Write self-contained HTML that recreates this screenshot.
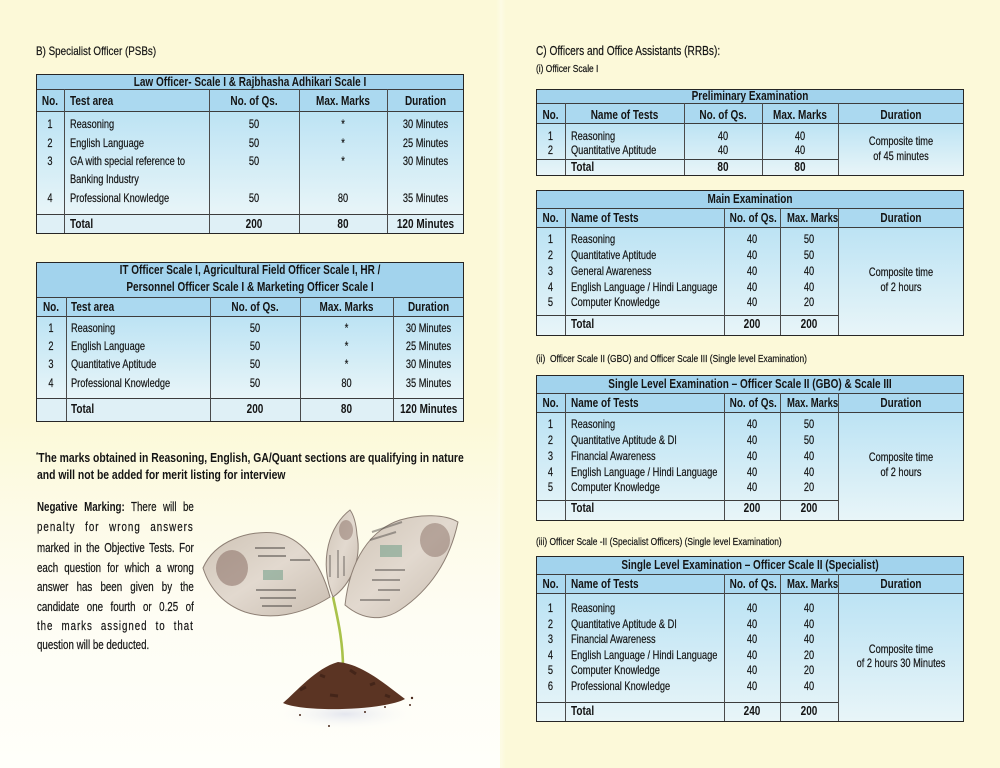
<!DOCTYPE html>
<html><head><meta charset="utf-8">
<style>
*{margin:0;padding:0}
body{width:1000px;height:768px;position:relative;overflow:hidden;background:#fcf9d9;font-family:"Liberation Sans",sans-serif;color:#141414}
.lp{position:absolute;left:0;top:0;width:500px;height:768px;background:linear-gradient(#fcf9d8 0px,#fcf9d8 420px,#fdfbe8 520px,#fefdf4 620px,#fffffa 768px)}
.fold{position:absolute;left:496px;top:0;width:10px;height:768px;background:linear-gradient(90deg,rgba(255,255,255,0),rgba(255,255,250,.35),rgba(255,255,255,0))}
.bg{position:absolute}
.ti{background:#a2d3ed}
.hd{background:#abd9f0}
.bd{background:linear-gradient(#bce3f4,#e8f5f8)}
.tot{background:#dff0f6}
.hl{position:absolute;height:1px;background:#3c3c3c}
.vl{position:absolute;width:1px;background:#4a4a4a}
.fr{position:absolute;border:1.5px solid #262626;box-sizing:border-box}
.t{position:absolute;height:16px;line-height:16px;font-size:12px;white-space:nowrap;transform:scaleX(.77);transform-origin:0 50%;-webkit-text-stroke:0.2px #141414}
.b{font-weight:bold;font-size:12.5px;transform:scaleX(.8);-webkit-text-stroke:0}
.c{text-align:center;transform-origin:50% 50%}
.m{transform:scaleX(.76)}
.s{font-size:12px;transform:scaleX(.82)}
.xs{font-size:10.5px;transform:scaleX(.8)}
.p{position:absolute;left:37px;width:201px;height:18px;line-height:18px;font-size:12.5px;text-align:justify;text-align-last:justify;white-space:nowrap;transform:scaleX(.78);transform-origin:0 50%;-webkit-text-stroke:0.2px #141414}
.p b{-webkit-text-stroke:0}
</style></head><body>
<div class="lp"></div>
<div class="fold"></div>

<!-- section labels -->
<div class="t s" style="left:36px;top:43px">B) Specialist Officer (PSBs)</div>
<div class="t" style="left:536px;top:43px;font-size:12.5px;transform:scaleX(.81)">C) Officers and Office Assistants (RRBs):</div>
<div class="t xs" style="left:536px;top:61px">(i) Officer Scale I</div>
<div class="t xs" style="left:536px;top:351px">(ii)&nbsp; Officer Scale II (GBO) and Officer Scale III (Single level Examination)</div>
<div class="t xs" style="left:536px;top:534px">(iii) Officer Scale -II (Specialist Officers) (Single level Examination)</div>

<!-- TABLE 1 -->
<div class="bg ti" style="left:36px;top:74px;width:428px;height:16px"></div>
<div class="bg hd" style="left:36px;top:90px;width:428px;height:21px"></div>
<div class="bg bd" style="left:36px;top:111px;width:428px;height:103px"></div>
<div class="bg tot" style="left:36px;top:214px;width:428px;height:19px"></div>
<div class="hl" style="left:36px;top:89px;width:428px"></div>
<div class="hl" style="left:36px;top:111px;width:428px"></div>
<div class="hl" style="left:36px;top:214px;width:428px"></div>
<div class="vl" style="left:64px;top:89px;height:144px"></div>
<div class="vl" style="left:209px;top:89px;height:144px"></div>
<div class="vl" style="left:299px;top:89px;height:144px"></div>
<div class="vl" style="left:387px;top:89px;height:144px"></div>
<div class="fr" style="left:36px;top:74px;width:428px;height:160px"></div>
<div class="t b c" style="left:36px;width:428px;top:74px">Law Officer- Scale I &amp; Rajbhasha Adhikari Scale I</div>
<div class="t b c" style="left:36px;width:28px;top:93px">No.</div>
<div class="t b" style="left:70px;top:93px">Test area</div>
<div class="t b c" style="left:209px;width:90px;top:93px">No. of Qs.</div>
<div class="t b c" style="left:299px;width:88px;top:93px">Max. Marks</div>
<div class="t b c" style="left:387px;width:77px;top:93px">Duration</div>

<div class="t c" style="left:36px;width:28px;top:116px">1</div>
<div class="t" style="left:70px;top:116px">Reasoning</div>
<div class="t c" style="left:209px;width:90px;top:116px">50</div>
<div class="t c" style="left:299px;width:88px;top:116px">*</div>
<div class="t c" style="left:387px;width:77px;top:116px">30 Minutes</div>

<div class="t c" style="left:36px;width:28px;top:135px">2</div>
<div class="t" style="left:70px;top:135px">English Language</div>
<div class="t c" style="left:209px;width:90px;top:135px">50</div>
<div class="t c" style="left:299px;width:88px;top:135px">*</div>
<div class="t c" style="left:387px;width:77px;top:135px">25 Minutes</div>

<div class="t c" style="left:36px;width:28px;top:153px">3</div>
<div class="t" style="left:70px;top:153px">GA with special reference to</div>
<div class="t c" style="left:209px;width:90px;top:153px">50</div>
<div class="t c" style="left:299px;width:88px;top:153px">*</div>
<div class="t c" style="left:387px;width:77px;top:153px">30 Minutes</div>
<div class="t" style="left:70px;top:171px">Banking Industry</div>

<div class="t c" style="left:36px;width:28px;top:190px">4</div>
<div class="t" style="left:70px;top:190px">Professional Knowledge</div>
<div class="t c" style="left:209px;width:90px;top:190px">50</div>
<div class="t c" style="left:299px;width:88px;top:190px">80</div>
<div class="t c" style="left:387px;width:77px;top:190px">35 Minutes</div>

<div class="t b" style="left:70px;top:216px">Total</div>
<div class="t b c" style="left:209px;width:90px;top:216px">200</div>
<div class="t b c" style="left:299px;width:88px;top:216px">80</div>
<div class="t b c" style="left:387px;width:77px;top:216px">120 Minutes</div>

<!-- TABLE 2 -->
<div class="bg ti" style="left:36px;top:262px;width:428px;height:35px"></div>
<div class="bg hd" style="left:36px;top:297px;width:428px;height:19px"></div>
<div class="bg bd" style="left:36px;top:316px;width:428px;height:82px"></div>
<div class="bg tot" style="left:36px;top:398px;width:428px;height:23px"></div>
<div class="hl" style="left:36px;top:297px;width:428px"></div>
<div class="hl" style="left:36px;top:316px;width:428px"></div>
<div class="hl" style="left:36px;top:398px;width:428px"></div>
<div class="vl" style="left:66px;top:297px;height:124px"></div>
<div class="vl" style="left:210px;top:297px;height:124px"></div>
<div class="vl" style="left:300px;top:297px;height:124px"></div>
<div class="vl" style="left:393px;top:297px;height:124px"></div>
<div class="fr" style="left:36px;top:262px;width:428px;height:160px"></div>
<div class="t b c" style="left:36px;width:428px;top:262px">IT Officer Scale I, Agricultural Field Officer Scale I, HR /</div>
<div class="t b c" style="left:36px;width:428px;top:279px">Personnel Officer Scale I &amp; Marketing Officer Scale I</div>
<div class="t b c" style="left:36px;width:30px;top:299px">No.</div>
<div class="t b" style="left:71px;top:299px">Test area</div>
<div class="t b c" style="left:210px;width:90px;top:299px">No. of Qs.</div>
<div class="t b c" style="left:300px;width:93px;top:299px">Max. Marks</div>
<div class="t b c" style="left:393px;width:71px;top:299px">Duration</div>

<div class="t c" style="left:36px;width:30px;top:320px">1</div>
<div class="t" style="left:71px;top:320px">Reasoning</div>
<div class="t c" style="left:210px;width:90px;top:320px">50</div>
<div class="t c" style="left:300px;width:93px;top:320px">*</div>
<div class="t c" style="left:393px;width:71px;top:320px">30 Minutes</div>

<div class="t c" style="left:36px;width:30px;top:338px">2</div>
<div class="t" style="left:71px;top:338px">English Language</div>
<div class="t c" style="left:210px;width:90px;top:338px">50</div>
<div class="t c" style="left:300px;width:93px;top:338px">*</div>
<div class="t c" style="left:393px;width:71px;top:338px">25 Minutes</div>

<div class="t c" style="left:36px;width:30px;top:356px">3</div>
<div class="t" style="left:71px;top:356px">Quantitative Aptitude</div>
<div class="t c" style="left:210px;width:90px;top:356px">50</div>
<div class="t c" style="left:300px;width:93px;top:356px">*</div>
<div class="t c" style="left:393px;width:71px;top:356px">30 Minutes</div>

<div class="t c" style="left:36px;width:30px;top:375px">4</div>
<div class="t" style="left:71px;top:375px">Professional Knowledge</div>
<div class="t c" style="left:210px;width:90px;top:375px">50</div>
<div class="t c" style="left:300px;width:93px;top:375px">80</div>
<div class="t c" style="left:393px;width:71px;top:375px">35 Minutes</div>

<div class="t b" style="left:71px;top:401px">Total</div>
<div class="t b c" style="left:210px;width:90px;top:401px">200</div>
<div class="t b c" style="left:300px;width:93px;top:401px">80</div>
<div class="t b c" style="left:393px;width:71px;top:401px">120 Minutes</div>

<!-- footnote -->
<div class="t b" style="left:36px;top:448px;font-size:12.5px;transform:scaleX(.83)"><sup style="font-size:7px">*</sup>The marks obtained in Reasoning, English, GA/Quant sections are qualifying in nature</div>
<div class="t b" style="left:37px;top:467px;font-size:12.5px;transform:scaleX(.83)">and will not be added for merit listing for interview</div>

<div class="p" style="top:498px"><b>Negative Marking:</b> There will be</div>
<div class="p" style="top:518px;letter-spacing:1.3px">penalty for wrong answers</div>
<div class="p" style="top:539px">marked in the Objective Tests. For</div>
<div class="p" style="top:559px">each question for which a wrong</div>
<div class="p" style="top:578px">answer has been given by the</div>
<div class="p" style="top:598px">candidate one fourth or 0.25 of</div>
<div class="p" style="top:617px;letter-spacing:1.2px">the marks assigned to that</div>
<div class="p" style="top:636px;text-align-last:left">question will be deducted.</div>

<!-- plant illustration -->
<svg style="position:absolute;left:0;top:0" width="1000" height="768" viewBox="0 0 1000 768">
<defs>
<linearGradient id="lf" x1="0" y1="0" x2="1" y2="1">
<stop offset="0" stop-color="#cfc4b6"/><stop offset=".5" stop-color="#e2d9cf"/><stop offset="1" stop-color="#c9bdb0"/>
</linearGradient>
<radialGradient id="sh" cx=".5" cy=".5" r=".5"><stop offset="0" stop-color="#e4e6ee"/><stop offset="1" stop-color="#fbfbf8" stop-opacity="0"/></radialGradient>
</defs>
<ellipse cx="345" cy="714" rx="70" ry="16" fill="url(#sh)"/>
<path d="M333,597 C338,620 343,642 343,668" stroke="#a9c24a" stroke-width="2.6" fill="none"/>
<!-- left leaf -->
<path d="M203,568 C215,540 250,530 275,533 C300,537 320,560 330,597 C300,616 270,620 245,612 C225,605 210,590 203,568Z" fill="url(#lf)" stroke="#8d7f74" stroke-width="1"/>
<ellipse cx="232" cy="568" rx="16" ry="18" fill="#8a6f66" opacity=".55"/>
<rect x="263" y="570" width="20" height="10" fill="#6f9c86" opacity=".55"/>
<path d="M255,548 h30 M258,556 h28 M256,590 h40 M260,598 h36 M262,606 h30 M290,560 h20" stroke="#55504c" stroke-width="2" opacity=".55"/>
<!-- middle leaf -->
<path d="M350,510 C330,525 318,560 333,597 C350,585 362,560 357,535 C356,522 353,514 350,510Z" fill="url(#lf)" stroke="#8d7f74" stroke-width="1"/>
<ellipse cx="346" cy="530" rx="7" ry="10" fill="#8a6f66" opacity=".5"/>
<path d="M330,555 v22 M338,550 v28 M344,556 v20" stroke="#55504c" stroke-width="1.6" opacity=".5"/>
<!-- right leaf -->
<path d="M345,605 C350,560 370,530 400,520 C420,514 445,514 458,522 C450,560 430,590 400,610 C385,620 365,622 345,605Z" fill="url(#lf)" stroke="#8d7f74" stroke-width="1"/>
<ellipse cx="435" cy="540" rx="15" ry="17" fill="#8a6f66" opacity=".5"/>
<rect x="380" y="545" width="22" height="12" fill="#6f9c86" opacity=".55"/>
<path d="M372,532 l30,-10 M370,540 l26,-8 M375,570 h30 M372,580 h28 M378,590 h22 M360,600 h30" stroke="#55504c" stroke-width="2" opacity=".5"/>
<!-- soil -->
<path d="M283,703 C296,692 316,668 338,662 C362,664 385,684 405,699 C385,710 305,713 283,703Z" fill="#5b3423"/>
<path d="M300,690 l6,-3 M320,675 l5,2 M350,670 l6,4 M370,685 l5,-2 M330,695 l8,1 M385,695 l5,2" stroke="#3b2016" stroke-width="3" opacity=".7"/>
<circle cx="412" cy="698" r="1.2" fill="#4a2a1c"/><circle cx="410" cy="705" r="1" fill="#4a2a1c"/>
<circle cx="300" cy="715" r="1" fill="#4a2a1c"/><circle cx="329" cy="726" r="1" fill="#4a2a1c"/>
<circle cx="365" cy="712" r="1" fill="#4a2a1c"/><circle cx="385" cy="707" r="1" fill="#4a2a1c"/>
</svg>

<!-- RIGHT TABLES -->
<!-- Preliminary -->
<div class="bg ti" style="left:536px;top:90px;width:428px;height:13px"></div>
<div class="bg hd" style="left:536px;top:103px;width:428px;height:20px"></div>
<div class="bg bd" style="left:536px;top:123px;width:428px;height:52px"></div>
<div class="hl" style="left:536px;top:103px;width:428px"></div>
<div class="hl" style="left:536px;top:123px;width:428px"></div>
<div class="hl" style="left:536px;top:159px;width:302px"></div>
<div class="vl" style="left:565px;top:103px;height:72px"></div>
<div class="vl" style="left:684px;top:103px;height:72px"></div>
<div class="vl" style="left:762px;top:103px;height:72px"></div>
<div class="vl" style="left:838px;top:103px;height:72px"></div>
<div class="fr" style="left:536px;top:89px;width:428px;height:87px"></div>
<div class="t b c" style="left:536px;width:428px;top:88px">Preliminary Examination</div>
<div class="t b c" style="left:536px;width:29px;top:107px">No.</div>
<div class="t b c" style="left:565px;width:119px;top:107px">Name of Tests</div>
<div class="t b c" style="left:684px;width:78px;top:107px">No. of Qs.</div>
<div class="t b c" style="left:762px;width:76px;top:107px">Max. Marks</div>
<div class="t b c" style="left:838px;width:126px;top:107px">Duration</div>
<div class="t c" style="left:536px;width:29px;top:128px">1</div>
<div class="t" style="left:571px;top:128px">Reasoning</div>
<div class="t c" style="left:684px;width:78px;top:128px">40</div>
<div class="t c" style="left:762px;width:76px;top:128px">40</div>
<div class="t c" style="left:536px;width:29px;top:142px">2</div>
<div class="t" style="left:571px;top:142px">Quantitative Aptitude</div>
<div class="t c" style="left:684px;width:78px;top:142px">40</div>
<div class="t c" style="left:762px;width:76px;top:142px">40</div>
<div class="t b" style="left:571px;top:159px">Total</div>
<div class="t b c" style="left:684px;width:78px;top:159px">80</div>
<div class="t b c" style="left:762px;width:76px;top:159px">80</div>
<div class="t c" style="left:838px;width:126px;top:133px">Composite time</div>
<div class="t c" style="left:838px;width:126px;top:148px">of 45 minutes</div>

<!-- Main -->
<div class="bg ti" style="left:536px;top:190px;width:428px;height:18px"></div>
<div class="bg hd" style="left:536px;top:208px;width:428px;height:19px"></div>
<div class="bg bd" style="left:536px;top:227px;width:428px;height:108px"></div>
<div class="hl" style="left:536px;top:208px;width:428px"></div>
<div class="hl" style="left:536px;top:227px;width:428px"></div>
<div class="hl" style="left:536px;top:315px;width:302px"></div>
<div class="vl" style="left:565px;top:208px;height:127px"></div>
<div class="vl" style="left:724px;top:208px;height:127px"></div>
<div class="vl" style="left:780px;top:208px;height:127px"></div>
<div class="vl" style="left:838px;top:208px;height:127px"></div>
<div class="fr" style="left:536px;top:190px;width:428px;height:146px"></div>
<div class="t b c" style="left:536px;width:428px;top:191px">Main Examination</div>
<div class="t b c" style="left:536px;width:29px;top:210px">No.</div>
<div class="t b" style="left:571px;top:210px">Name of Tests</div>
<div class="t b c" style="left:724px;width:56px;top:210px">No. of Qs.</div>
<div class="t b c m" style="left:780px;width:58px;top:210px">Max. Marks</div>
<div class="t b c" style="left:838px;width:126px;top:210px">Duration</div>
<div class="t c" style="left:536px;width:29px;top:231px">1</div>
<div class="t" style="left:571px;top:231px">Reasoning</div>
<div class="t c" style="left:724px;width:56px;top:231px">40</div>
<div class="t c" style="left:780px;width:58px;top:231px">50</div>
<div class="t c" style="left:536px;width:29px;top:247px">2</div>
<div class="t" style="left:571px;top:247px">Quantitative Aptitude</div>
<div class="t c" style="left:724px;width:56px;top:247px">40</div>
<div class="t c" style="left:780px;width:58px;top:247px">50</div>
<div class="t c" style="left:536px;width:29px;top:263px">3</div>
<div class="t" style="left:571px;top:263px">General Awareness</div>
<div class="t c" style="left:724px;width:56px;top:263px">40</div>
<div class="t c" style="left:780px;width:58px;top:263px">40</div>
<div class="t c" style="left:536px;width:29px;top:279px">4</div>
<div class="t" style="left:571px;top:279px">English Language / Hindi Language</div>
<div class="t c" style="left:724px;width:56px;top:279px">40</div>
<div class="t c" style="left:780px;width:58px;top:279px">40</div>
<div class="t c" style="left:536px;width:29px;top:294px">5</div>
<div class="t" style="left:571px;top:294px">Computer Knowledge</div>
<div class="t c" style="left:724px;width:56px;top:294px">40</div>
<div class="t c" style="left:780px;width:58px;top:294px">20</div>
<div class="t b" style="left:571px;top:316px">Total</div>
<div class="t b c" style="left:724px;width:56px;top:316px">200</div>
<div class="t b c" style="left:780px;width:58px;top:316px">200</div>
<div class="t c" style="left:838px;width:126px;top:264px">Composite time</div>
<div class="t c" style="left:838px;width:126px;top:279px">of 2 hours</div>

<!-- GBO -->
<div class="bg ti" style="left:536px;top:375px;width:428px;height:18px"></div>
<div class="bg hd" style="left:536px;top:393px;width:428px;height:19px"></div>
<div class="bg bd" style="left:536px;top:412px;width:428px;height:108px"></div>
<div class="hl" style="left:536px;top:393px;width:428px"></div>
<div class="hl" style="left:536px;top:412px;width:428px"></div>
<div class="hl" style="left:536px;top:500px;width:302px"></div>
<div class="vl" style="left:565px;top:393px;height:127px"></div>
<div class="vl" style="left:724px;top:393px;height:127px"></div>
<div class="vl" style="left:780px;top:393px;height:127px"></div>
<div class="vl" style="left:838px;top:393px;height:127px"></div>
<div class="fr" style="left:536px;top:375px;width:428px;height:146px"></div>
<div class="t b c" style="left:536px;width:428px;top:376px">Single Level Examination – Officer Scale II (GBO) &amp; Scale III</div>
<div class="t b c" style="left:536px;width:29px;top:395px">No.</div>
<div class="t b" style="left:571px;top:395px">Name of Tests</div>
<div class="t b c" style="left:724px;width:56px;top:395px">No. of Qs.</div>
<div class="t b c m" style="left:780px;width:58px;top:395px">Max. Marks</div>
<div class="t b c" style="left:838px;width:126px;top:395px">Duration</div>
<div class="t c" style="left:536px;width:29px;top:416px">1</div>
<div class="t" style="left:571px;top:416px">Reasoning</div>
<div class="t c" style="left:724px;width:56px;top:416px">40</div>
<div class="t c" style="left:780px;width:58px;top:416px">50</div>
<div class="t c" style="left:536px;width:29px;top:432px">2</div>
<div class="t" style="left:571px;top:432px">Quantitative Aptitude &amp; DI</div>
<div class="t c" style="left:724px;width:56px;top:432px">40</div>
<div class="t c" style="left:780px;width:58px;top:432px">50</div>
<div class="t c" style="left:536px;width:29px;top:448px">3</div>
<div class="t" style="left:571px;top:448px">Financial Awareness</div>
<div class="t c" style="left:724px;width:56px;top:448px">40</div>
<div class="t c" style="left:780px;width:58px;top:448px">40</div>
<div class="t c" style="left:536px;width:29px;top:464px">4</div>
<div class="t" style="left:571px;top:464px">English Language / Hindi Language</div>
<div class="t c" style="left:724px;width:56px;top:464px">40</div>
<div class="t c" style="left:780px;width:58px;top:464px">40</div>
<div class="t c" style="left:536px;width:29px;top:479px">5</div>
<div class="t" style="left:571px;top:479px">Computer Knowledge</div>
<div class="t c" style="left:724px;width:56px;top:479px">40</div>
<div class="t c" style="left:780px;width:58px;top:479px">20</div>
<div class="t b" style="left:571px;top:500px">Total</div>
<div class="t b c" style="left:724px;width:56px;top:500px">200</div>
<div class="t b c" style="left:780px;width:58px;top:500px">200</div>
<div class="t c" style="left:838px;width:126px;top:449px">Composite time</div>
<div class="t c" style="left:838px;width:126px;top:464px">of 2 hours</div>

<!-- Specialist -->
<div class="bg ti" style="left:536px;top:556px;width:428px;height:18px"></div>
<div class="bg hd" style="left:536px;top:574px;width:428px;height:19px"></div>
<div class="bg bd" style="left:536px;top:593px;width:428px;height:128px"></div>
<div class="hl" style="left:536px;top:574px;width:428px"></div>
<div class="hl" style="left:536px;top:593px;width:428px"></div>
<div class="hl" style="left:536px;top:702px;width:302px"></div>
<div class="vl" style="left:565px;top:574px;height:147px"></div>
<div class="vl" style="left:724px;top:574px;height:147px"></div>
<div class="vl" style="left:780px;top:574px;height:147px"></div>
<div class="vl" style="left:838px;top:574px;height:147px"></div>
<div class="fr" style="left:536px;top:556px;width:428px;height:166px"></div>
<div class="t b c" style="left:536px;width:428px;top:557px">Single Level Examination – Officer Scale II (Specialist)</div>
<div class="t b c" style="left:536px;width:29px;top:576px">No.</div>
<div class="t b" style="left:571px;top:576px">Name of Tests</div>
<div class="t b c" style="left:724px;width:56px;top:576px">No. of Qs.</div>
<div class="t b c m" style="left:780px;width:58px;top:576px">Max. Marks</div>
<div class="t b c" style="left:838px;width:126px;top:576px">Duration</div>
<div class="t c" style="left:536px;width:29px;top:600px">1</div>
<div class="t" style="left:571px;top:600px">Reasoning</div>
<div class="t c" style="left:724px;width:56px;top:600px">40</div>
<div class="t c" style="left:780px;width:58px;top:600px">40</div>
<div class="t c" style="left:536px;width:29px;top:616px">2</div>
<div class="t" style="left:571px;top:616px">Quantitative Aptitude &amp; DI</div>
<div class="t c" style="left:724px;width:56px;top:616px">40</div>
<div class="t c" style="left:780px;width:58px;top:616px">40</div>
<div class="t c" style="left:536px;width:29px;top:631px">3</div>
<div class="t" style="left:571px;top:631px">Financial Awareness</div>
<div class="t c" style="left:724px;width:56px;top:631px">40</div>
<div class="t c" style="left:780px;width:58px;top:631px">40</div>
<div class="t c" style="left:536px;width:29px;top:647px">4</div>
<div class="t" style="left:571px;top:647px">English Language / Hindi Language</div>
<div class="t c" style="left:724px;width:56px;top:647px">40</div>
<div class="t c" style="left:780px;width:58px;top:647px">20</div>
<div class="t c" style="left:536px;width:29px;top:662px">5</div>
<div class="t" style="left:571px;top:662px">Computer Knowledge</div>
<div class="t c" style="left:724px;width:56px;top:662px">40</div>
<div class="t c" style="left:780px;width:58px;top:662px">20</div>
<div class="t c" style="left:536px;width:29px;top:678px">6</div>
<div class="t" style="left:571px;top:678px">Professional Knowledge</div>
<div class="t c" style="left:724px;width:56px;top:678px">40</div>
<div class="t c" style="left:780px;width:58px;top:678px">40</div>
<div class="t b" style="left:571px;top:703px">Total</div>
<div class="t b c" style="left:724px;width:56px;top:703px">240</div>
<div class="t b c" style="left:780px;width:58px;top:703px">200</div>
<div class="t c" style="left:838px;width:126px;top:641px">Composite time</div>
<div class="t c" style="left:838px;width:126px;top:655px">of 2 hours 30 Minutes</div>

</body></html>
